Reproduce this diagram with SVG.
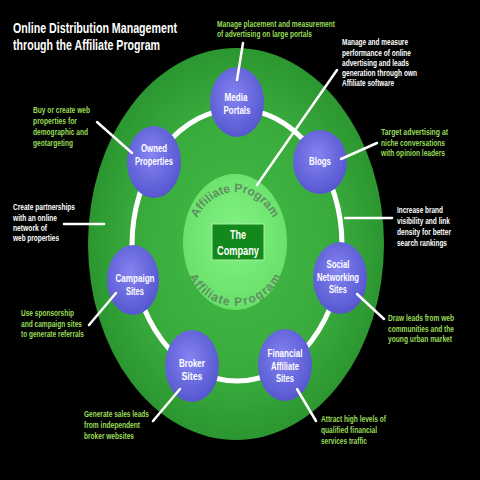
<svg xmlns="http://www.w3.org/2000/svg" width="480" height="480" viewBox="0 0 480 480">
<defs>
<radialGradient id="gBig" cx="50%" cy="50%" r="50%">
<stop offset="0" stop-color="#44bc46"/>
<stop offset="0.7" stop-color="#38aa3c"/>
<stop offset="1" stop-color="#2c9630"/>
</radialGradient>
<radialGradient id="gCenter" cx="50%" cy="45%" r="55%">
<stop offset="0" stop-color="#84f284"/>
<stop offset="1" stop-color="#68e068"/>
</radialGradient>
<radialGradient id="gNode" cx="45%" cy="40%" r="60%">
<stop offset="0" stop-color="#8484f2"/>
<stop offset="1" stop-color="#5656d0"/>
</radialGradient>
<path id="arcTop" d="M 191,246 A 44 54 0 0 1 279 246"/>
<path id="arcBot" d="M 189,242 A 46 55 0 0 0 281 242"/>
<style>
text{font-family:"Liberation Sans",Arial,sans-serif;font-weight:bold}
.title{fill:#ffffff;font-size:14px}
.g{fill:#9ade58;font-size:9px}
.w{fill:#ffffff;font-size:9px}
.n{fill:#ffffff;font-size:11px;text-anchor:middle}
.node{fill:url(#gNode)}
.arc{fill:#5f8f62;font-size:12px}
.conn line{stroke:#ffffff;stroke-width:2.5;stroke-linecap:round}
</style>
</defs>
<rect width="480" height="480" fill="#000000"/>
<ellipse cx="236" cy="244" rx="148" ry="196" fill="url(#gBig)"/>
<ellipse cx="237" cy="245" rx="105" ry="136" fill="none" stroke="#ffffff" stroke-width="5"/>
<g id="center">
<ellipse cx="235" cy="242" rx="52" ry="68" fill="url(#gCenter)"/>
<text class="arc"><textPath href="#arcTop" startOffset="50%" text-anchor="middle">Affiliate Program</textPath></text>
<text class="arc"><textPath href="#arcBot" startOffset="50%" text-anchor="middle" dominant-baseline="hanging">Affiliate Program</textPath></text>
<rect x="212" y="224" width="52" height="36" fill="#12891a" stroke="#a8f0a8" stroke-width="1"/>
<text class="n" x="238" y="239" style="font-size:12px" textLength="16" lengthAdjust="spacingAndGlyphs">The</text>
<text class="n" x="238" y="255" style="font-size:12px" textLength="42" lengthAdjust="spacingAndGlyphs">Company</text>
</g>
<g id="media-portals">
<ellipse class="node" cx="237" cy="102" rx="27" ry="35"/>
<text class="n" x="236" y="101" textLength="23" lengthAdjust="spacingAndGlyphs">Media</text>
<text class="n" x="237" y="114" textLength="27" lengthAdjust="spacingAndGlyphs">Portals</text>
</g>
<g id="owned-properties">
<ellipse class="node" cx="154" cy="162" rx="27" ry="36"/>
<text class="n" x="154" y="152" textLength="26" lengthAdjust="spacingAndGlyphs">Owned</text>
<text class="n" x="154" y="165" textLength="38" lengthAdjust="spacingAndGlyphs">Properties</text>
</g>
<g id="blogs">
<ellipse class="node" cx="320" cy="162" rx="27" ry="32"/>
<text class="n" x="320" y="165" textLength="22" lengthAdjust="spacingAndGlyphs">Blogs</text>
</g>
<g id="social-networking-sites">
<ellipse class="node" cx="340" cy="278" rx="27" ry="36"/>
<text class="n" x="338" y="268" textLength="23" lengthAdjust="spacingAndGlyphs">Social</text>
<text class="n" x="338" y="281" textLength="42" lengthAdjust="spacingAndGlyphs">Networking</text>
<text class="n" x="338" y="293" textLength="18" lengthAdjust="spacingAndGlyphs">Sites</text>
</g>
<g id="campaign-sites">
<ellipse class="node" cx="133" cy="280" rx="26" ry="35"/>
<text class="n" x="135" y="282" textLength="39" lengthAdjust="spacingAndGlyphs">Campaign</text>
<text class="n" x="135" y="295" textLength="18" lengthAdjust="spacingAndGlyphs">Sites</text>
</g>
<g id="broker-sites">
<ellipse class="node" cx="192" cy="366" rx="27" ry="36"/>
<text class="n" x="192" y="367" textLength="26" lengthAdjust="spacingAndGlyphs">Broker</text>
<text class="n" x="192" y="380" textLength="21" lengthAdjust="spacingAndGlyphs">Sites</text>
</g>
<g id="financial-affiliate-sites">
<ellipse class="node" cx="285" cy="365" rx="27" ry="36"/>
<text class="n" x="285" y="357" textLength="35" lengthAdjust="spacingAndGlyphs">Financial</text>
<text class="n" x="285" y="370" textLength="28" lengthAdjust="spacingAndGlyphs">Affiliate</text>
<text class="n" x="285" y="382" textLength="18" lengthAdjust="spacingAndGlyphs">Sites</text>
</g>
<g id="connectors" class="conn">
<line x1="243" y1="43" x2="237" y2="80"/>
<line x1="337" y1="70" x2="257" y2="185"/>
<line x1="97" y1="122" x2="132" y2="153"/>
<line x1="64" y1="224" x2="104" y2="224"/>
<line x1="377" y1="143" x2="341" y2="159"/>
<line x1="345" y1="218" x2="392" y2="218"/>
<line x1="89" y1="325" x2="116" y2="293"/>
<line x1="153" y1="421" x2="180" y2="389"/>
<line x1="357" y1="294" x2="384" y2="319"/>
<line x1="297" y1="389" x2="316" y2="421"/>
</g>
<g id="title">
<text class="title" x="13" y="33" textLength="164" lengthAdjust="spacingAndGlyphs">Online Distribution Management</text>
<text class="title" x="13" y="50" textLength="147" lengthAdjust="spacingAndGlyphs">through the Affiliate Program</text>
</g>
<g id="labels">
<text class="g" x="217" y="27" textLength="118" lengthAdjust="spacingAndGlyphs">Manage placement and measurement</text>
<text class="g" x="217" y="37" textLength="95" lengthAdjust="spacingAndGlyphs">of advertising on large portals</text>
<text class="w" x="342" y="45" textLength="66" lengthAdjust="spacingAndGlyphs">Manage and measure</text>
<text class="w" x="342" y="56" textLength="69" lengthAdjust="spacingAndGlyphs">performance of online</text>
<text class="w" x="342" y="66" textLength="67" lengthAdjust="spacingAndGlyphs">advertising and leads</text>
<text class="w" x="342" y="76" textLength="75" lengthAdjust="spacingAndGlyphs">generation through own</text>
<text class="w" x="342" y="86" textLength="52" lengthAdjust="spacingAndGlyphs">Affiliate software</text>
<text class="g" x="33" y="113" textLength="57" lengthAdjust="spacingAndGlyphs">Buy or create web</text>
<text class="g" x="33" y="124" textLength="44" lengthAdjust="spacingAndGlyphs">properties for</text>
<text class="g" x="33" y="135" textLength="55" lengthAdjust="spacingAndGlyphs">demographic and</text>
<text class="g" x="33" y="146" textLength="40" lengthAdjust="spacingAndGlyphs">geotargeting</text>
<text class="w" x="13" y="210" textLength="62" lengthAdjust="spacingAndGlyphs">Create partnerships</text>
<text class="w" x="13" y="221" textLength="44" lengthAdjust="spacingAndGlyphs">with an online</text>
<text class="w" x="13" y="231" textLength="34" lengthAdjust="spacingAndGlyphs">network of</text>
<text class="w" x="13" y="241" textLength="46" lengthAdjust="spacingAndGlyphs">web properties</text>
<text class="g" x="381" y="135" textLength="67" lengthAdjust="spacingAndGlyphs">Target advertising  at</text>
<text class="g" x="381" y="146" textLength="64" lengthAdjust="spacingAndGlyphs">niche conversations</text>
<text class="g" x="381" y="156" textLength="64" lengthAdjust="spacingAndGlyphs">with opinion leaders</text>
<text class="w" x="397" y="213" textLength="46" lengthAdjust="spacingAndGlyphs">Increase brand</text>
<text class="w" x="397" y="224" textLength="53" lengthAdjust="spacingAndGlyphs">visibility and link</text>
<text class="w" x="397" y="235" textLength="54" lengthAdjust="spacingAndGlyphs">density for better</text>
<text class="w" x="397" y="246" textLength="50" lengthAdjust="spacingAndGlyphs">search rankings</text>
<text class="g" x="21" y="316" textLength="53" lengthAdjust="spacingAndGlyphs">Use sponsorship</text>
<text class="g" x="21" y="327" textLength="61" lengthAdjust="spacingAndGlyphs">and campaign sites</text>
<text class="g" x="21" y="337" textLength="63" lengthAdjust="spacingAndGlyphs">to generate referrals</text>
<text class="g" x="84" y="417" textLength="65" lengthAdjust="spacingAndGlyphs">Generate sales leads</text>
<text class="g" x="84" y="428" textLength="56" lengthAdjust="spacingAndGlyphs">from independent</text>
<text class="g" x="84" y="439" textLength="50" lengthAdjust="spacingAndGlyphs">broker websites</text>
<text class="g" x="388" y="321" textLength="66" lengthAdjust="spacingAndGlyphs">Draw leads from web</text>
<text class="g" x="388" y="332" textLength="66" lengthAdjust="spacingAndGlyphs">communities and the</text>
<text class="g" x="388" y="342" textLength="64" lengthAdjust="spacingAndGlyphs">young urban market</text>
<text class="g" x="321" y="422" textLength="65" lengthAdjust="spacingAndGlyphs">Attract high levels of</text>
<text class="g" x="321" y="433" textLength="56" lengthAdjust="spacingAndGlyphs">qualified financial</text>
<text class="g" x="321" y="444" textLength="46" lengthAdjust="spacingAndGlyphs">services traffic</text>
</g>
</svg>
